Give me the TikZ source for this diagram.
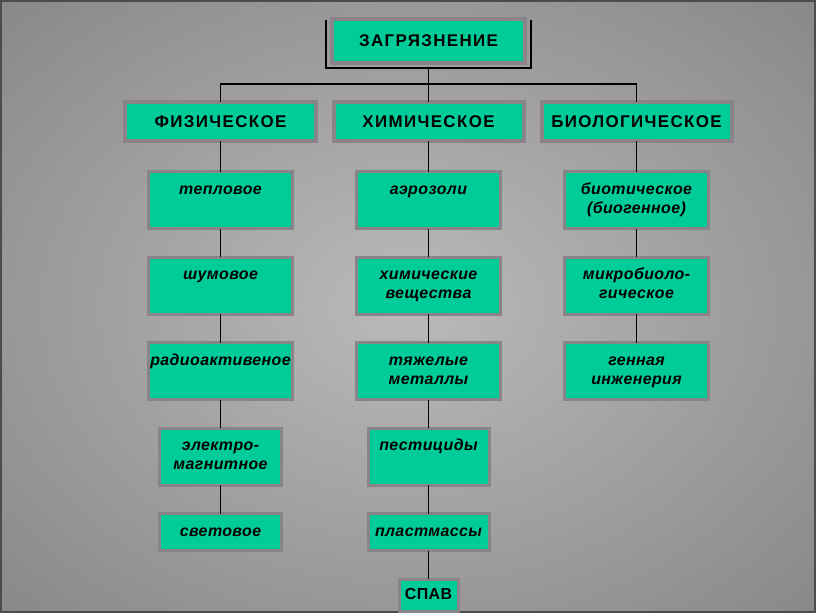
\documentclass[tikz,border=0pt]{standalone}
\usepackage{fontspec}
\setmainfont{Liberation Sans}
\newfontfamily\headfont[LetterSpace=8]{Liberation Sans}
\newfontfamily\kindfont[LetterSpace=2.5]{Liberation Sans}
\usepackage{tikz}
\usetikzlibrary{positioning}
\definecolor{boxgreen}{RGB}{0,204,153}
\definecolor{boxrim}{RGB}{138,132,136}
\definecolor{bgin}{RGB}{186,186,186}
\definecolor{bgout}{RGB}{86,86,86}
\pgfdeclareradialshading{backdrop}{\pgfpoint{0bp}{0bp}}{color(0bp)=(bgin); color(71bp)=(bgout)}
\tikzset{
    %Define style for the boxes
    headbox/.style={
           rectangle,
           draw=boxrim, line width=4bp,
           fill=boxgreen,
           outer sep=0pt,
           font=\fontsize{17}{19}\headfont\bfseries,
           text centered},
    topbox/.style={
           headbox,
           minimum width=193bp,
           minimum height=44bp},
    groupbox/.style={
           headbox,
           minimum width=190bp,
           minimum height=39bp},
    kindbox/.style={
           rectangle,
           draw=boxrim, line width=3bp,
           fill=boxgreen,
           outer sep=0pt,
           inner xsep=1bp,
           inner ysep=7.5bp,
           text height=15bp,
           text depth=27bp,
           minimum width=144bp,
           align=center,
           font=\fontsize{16}{19}\kindfont\bfseries\itshape},
    twoline/.style={
           text height=34bp,
           text depth=8bp},
    narrowbox/.style={
           kindbox,
           minimum width=121bp},
    shortbox/.style={
           narrowbox,
           text depth=7bp},
    tinybox/.style={
           kindbox,
           minimum width=59bp,
           text height=12bp,
           text depth=4bp,
           inner ysep=8bp,
           font=\fontsize{16}{19}\kindfont\bfseries},
    % Define line style
    link/.style={
           draw=black,
           line width=1.3bp},
    bracket/.style={
           draw=black,
           line width=2bp}
}
\begin{document}
\begin{tikzpicture}[x=1bp,y=-1bp,node distance=28.5bp]

 %background
\useasboundingbox (0,0) rectangle (816,613);
\shade[shading=backdrop] (0,0) rectangle (816,613);
\draw[line width=2bp,black!70] (1,1) rectangle (815,612);

 %nodes
\node[topbox](pollution) at (428.5,41){ЗАГРЯЗНЕНИЕ};
\node[groupbox, below=39bp of pollution](chem){ХИМИЧЕСКОЕ};
\node[groupbox, left=18bp of chem](phys){ФИЗИЧЕСКОЕ};
\node[groupbox, right=18bp of chem](bio){БИОЛОГИЧЕСКОЕ};
\coordinate[below=21bp of pollution](bus);

\node[kindbox, below=30.5bp of phys](thermal){тепловое};
\node[kindbox, below=of thermal](noise){шумовое};
\node[kindbox, below=of noise](radio){радиоактивеное};
\node[narrowbox, twoline, below=of radio](emag){электро-\\магнитное};
\node[shortbox, below=of emag](light){световое};

\node[kindbox, below=30.5bp of chem](aerosol){аэрозоли};
\node[kindbox, twoline, below=of aerosol](chemsub){химические\\вещества};
\node[kindbox, twoline, below=of chemsub](heavy){тяжелые\\металлы};
\node[narrowbox, below=of heavy](pest){пестициды};
\node[shortbox, below=of pest](plastic){пластмассы};
\node[tinybox, below=of plastic](spav){СПАВ};

\node[kindbox, twoline, below=30.5bp of bio](biotic){биотическое\\(биогенное)};
\node[kindbox, twoline, below=of biotic](micro){микробиоло-\\гическое};
\node[kindbox, twoline, below=of micro](genetic){генная\\инженерия};

 %frame of the top box
\draw[bracket] ([xshift=-6bp,yshift=-1bp]pollution.north west)
    |- ([xshift=6bp,yshift=-5bp]pollution.south east)
    -- ([xshift=6bp,yshift=-1bp]pollution.north east);

 %connectors
\draw[link] ([yshift=-5bp]pollution.south) -- (bus);
\draw[link] (bus) -| (phys.north);
\draw[link] (bus) -| (bio.north);
\draw[link] (bus) -- (chem.north);
\path[link]
    (phys) edge (thermal)
    (thermal) edge (noise)
    (noise) edge (radio)
    (radio) edge (emag)
    (emag) edge (light)
    (chem) edge (aerosol)
    (aerosol) edge (chemsub)
    (chemsub) edge (heavy)
    (heavy) edge (pest)
    (pest) edge (plastic)
    (plastic) edge (spav)
    (bio) edge (biotic)
    (biotic) edge (micro)
    (micro) edge (genetic);
\end{tikzpicture}
\end{document}
